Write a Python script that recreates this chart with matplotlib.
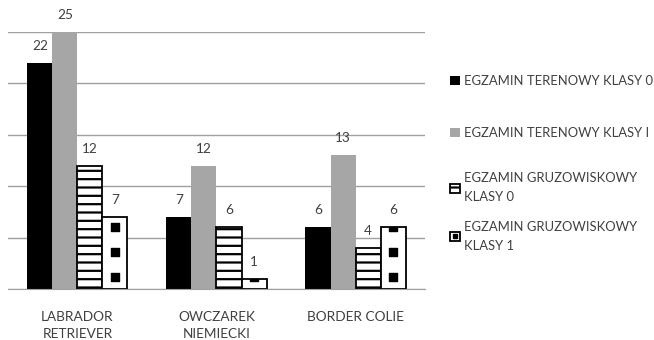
import matplotlib.pyplot as plt
import numpy as np
from matplotlib.lines import Line2D
from matplotlib.legend import Legend
from matplotlib.legend_handler import HandlerTuple

plt.rcParams['font.family'] = ['Lato', 'DejaVu Sans']
plt.rcParams['hatch.linewidth'] = 1.6

breeds = ['LABRADOR\nRETRIEVER', 'OWCZAREK\nNIEMIECKI', 'BORDER COLIE']
teren_0 = [22, 7, 6]
teren_1 = [25, 12, 13]
gruz_0 = [12, 6, 4]
gruz_1 = [7, 1, 6]
series_names = ['EGZAMIN TERENOWY KLASY 0', 'EGZAMIN TERENOWY KLASY I',
                'EGZAMIN GRUZOWISKOWY\nKLASY 0', 'EGZAMIN GRUZOWISKOWY\nKLASY 1']

txt = '#404040'
fig = plt.figure(figsize=(6.54, 3.40), dpi=100)
ax = fig.add_axes([0.012, 0.15, 0.638, 0.756])

x = np.arange(len(breeds))
w = 0.18
b1 = ax.bar(x - 1.5 * w, teren_0, w, color='black', label=series_names[0])
b2 = ax.bar(x - 0.5 * w, teren_1, w, color='#a6a6a6', label=series_names[1])
b3 = ax.bar(x + 0.5 * w, gruz_0, w, color='white', edgecolor='black',
            linewidth=1.3, hatch='--', label=series_names[2])
b4 = ax.bar(x + 1.5 * w, gruz_1, w, color='white', edgecolor='black',
            linewidth=1.3, label=series_names[3])

# square pattern inside the last series, clipped to each bar
step = 2.43
for rect, xc in zip(b4.patches, x + 1.5 * w):
    ys = np.arange(1.17, 26, step)
    sc = ax.scatter(np.full(len(ys), xc), ys, marker='s', s=36,
                    color='black', zorder=3)
    sc.set_clip_path(rect)

for bars in (b1, b2, b3, b4):
    ax.bar_label(bars, padding=8, fontsize=9.8, color=txt)

ax.set_xlim(-0.5, 2.5)
ax.set_ylim(0, 25)
ax.set_yticks([0, 5, 10, 15, 20, 25])
ax.yaxis.grid(True, color='#a0a0a0', linewidth=1)
ax.set_axisbelow(True)
ax.tick_params(axis='y', left=False, labelleft=False)
ax.tick_params(axis='x', length=0, pad=16, labelsize=9.8, labelcolor=txt)
ax.set_xticks(x)
ax.set_xticklabels(breeds, linespacing=1.5)
for s in ['left', 'right', 'top']:
    ax.spines[s].set_visible(False)
ax.spines['bottom'].set_color('#a0a0a0')

# legend: one entry per box so the entries sit evenly spaced like the original
sq = Line2D([], [], marker='s', color='black', linestyle='none', markersize=3.2)
handles = [b1, b2, b3, (b4, sq)]
centers = [0.809, 0.607, 0.393, 0.206]
for h, name, yc in zip(handles, series_names, centers):
    leg = Legend(ax, [h], [name], loc='center left', bbox_to_anchor=(1.06, yc),
                 frameon=False, fontsize=9.4, labelcolor=txt, handlelength=0.75,
                 handleheight=0.75, handletextpad=0.35,
                 borderaxespad=0, borderpad=0,
                 handler_map={tuple: HandlerTuple(ndivide=1)})
    for t in leg.get_texts():
        t.set_linespacing(1.7)
    ax.add_artist(leg)

fig.savefig('out.png', dpi=100)
